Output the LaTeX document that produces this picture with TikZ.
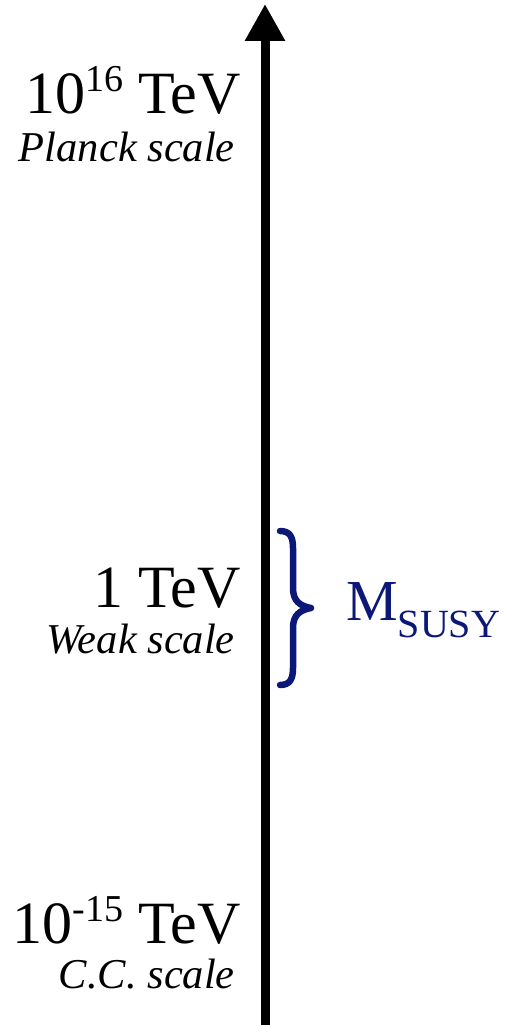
\documentclass[tikz,border=0pt]{standalone}
\usepackage{fontspec}
\setmainfont{Liberation Serif}
\usetikzlibrary{arrows.meta}
\definecolor{navy}{RGB}{12,24,120}
\tikzset{
  big/.style={font=\fontsize{60}{64}\selectfont, inner sep=0pt, anchor=base east},
  small/.style={font=\fontsize{42.5}{46}\selectfont\itshape, inner sep=0pt, anchor=base east},
}
\newcommand{\mysup}[1]{\raisebox{22pt}{\fontsize{38}{40}\selectfont #1}}
\begin{document}
\begin{tikzpicture}[x=1pt,y=1pt]
\useasboundingbox (0,0) rectangle (506,-1025);
\coordinate (bot) at (265,-1025);
\coordinate (top) at (265,-4);
\draw[line width=9pt, -{Triangle[width=38pt,length=37pt]}] (bot) -- (top);
\node[big] (planckE) at (241,-113) {10\mysup{16} TeV};
\node[small] (planckL) at (235,-161) {Planck scale};
\node[big] (weakE) at (241,-607) {1 TeV};
\node[small] (weakL) at (235,-653) {Weak scale};
\node[big] (ccE) at (241,-943) {10\mysup{-15} TeV};
\node[small] (ccL) at (235,-988) {C.C. scale};
\draw[navy, line width=6.5pt, line cap=round, line join=round]
  (280,-531) .. controls (290,-531) and (293,-537) .. (293,-548)
  -- (293,-588) .. controls (293,-601) and (300,-606) .. (311,-608)
  .. controls (300,-610) and (293,-615) .. (293,-628)
  -- (293,-668) .. controls (293,-679) and (290,-685) .. (280,-685);
\node[navy, inner sep=0pt, anchor=base west, font=\fontsize{58}{60}\selectfont] (msusy) at (346,-620) {M\raisebox{-17pt}{\fontsize{40}{44}\selectfont SUSY}};
\end{tikzpicture}
\end{document}
